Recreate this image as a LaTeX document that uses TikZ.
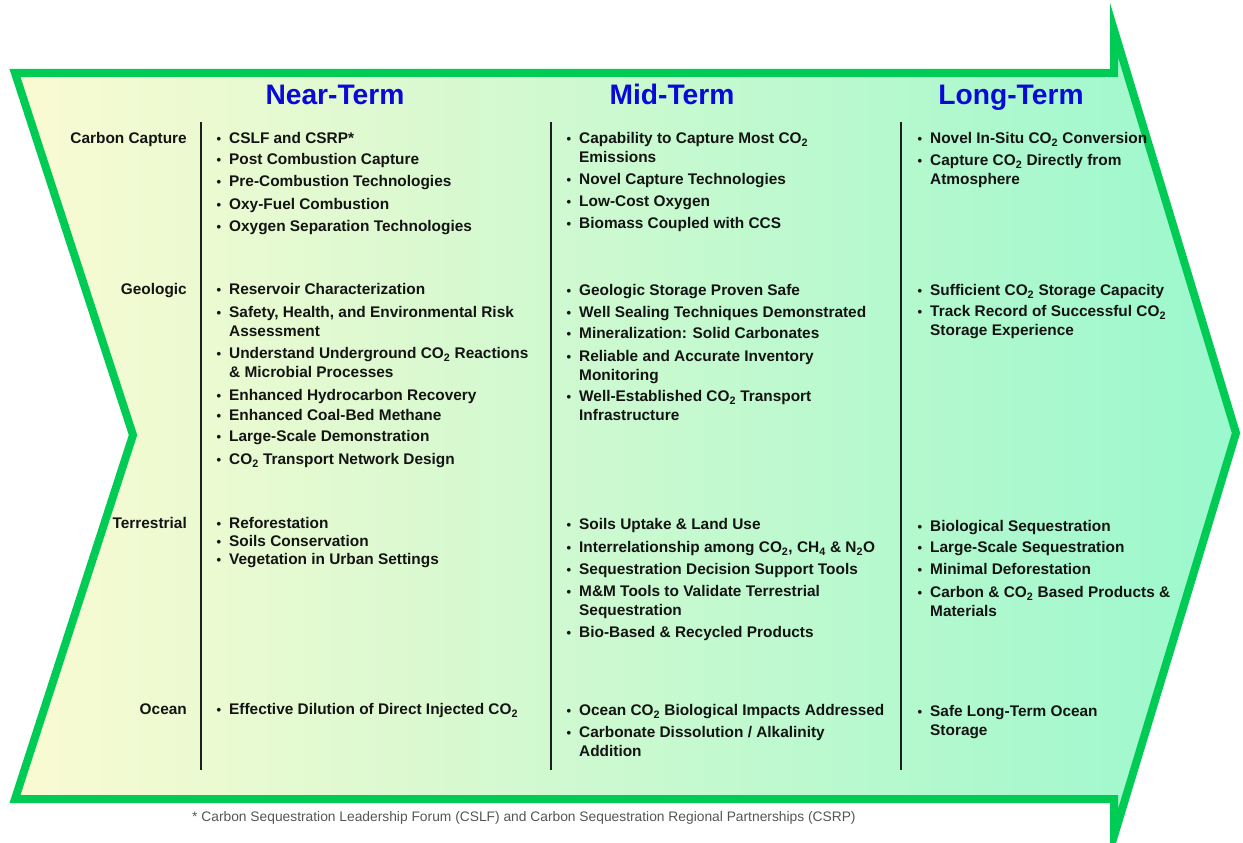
\documentclass[tikz,border=0pt]{standalone}
\usepackage{fontspec}
\setmainfont{Liberation Sans}
\definecolor{bordergreen}{RGB}{0,204,85}
\definecolor{fillyellow}{RGB}{250,250,210}
\definecolor{fillmid}{RGB}{222,249,206}
\definecolor{fillmint}{RGB}{155,248,205}
\definecolor{headblue}{RGB}{10,10,215}
\definecolor{txt}{RGB}{20,20,20}
\definecolor{footgray}{RGB}{85,85,85}
\definecolor{divgray}{RGB}{30,30,30}
\newcommand\cotwo{CO\textsubscript{2}}
\newcommand\bul{\llap{\fontsize{13}{13}\selectfont\raisebox{0.5pt}{•}\hspace{8pt}}}
\newcommand\bi[4]{\node[itm] (#1) at (#2,#3) {\bul\rule{0pt}{11.5pt}#4};}
\begin{document}
\begin{tikzpicture}[x=1pt,y=-1pt,
  itm/.style={anchor=north west,inner sep=0pt,align=left,text=txt,font=\fontsize{15.4}{19}\selectfont\bfseries},
  rowlab/.style={anchor=base east,inner sep=0pt,text=txt,font=\fontsize{15.4}{19}\selectfont\bfseries},
  head/.style={anchor=base,inner sep=0pt,text=headblue,font=\fontsize{28.2}{28}\selectfont\bfseries},
  footnote/.style={anchor=base west,inner sep=0pt,text=footgray,font=\fontsize{13.8}{15}\selectfont},
  divider/.style={line width=2pt,draw=divgray},
  arrowshape/.style={line width=8pt,draw=bordergreen,left color=fillyellow,middle color=fillmid,right color=fillmint,line join=miter}]
\useasboundingbox (0,0) rectangle (1243,843);
% arrow
\shadedraw[arrowshape] (15,73) -- (1114,73) -- (1114,30) -- (1236,433) -- (1114,836) -- (1114,799) -- (15,799) -- (133,435) -- cycle;
% headers
\node[head] (hnear) at (335,104) {Near-Term};
\node[head] (hmid) at (672,104) {Mid-Term};
\node[head] (hlong) at (1011,104) {Long-Term};
% dividers
\coordinate (d1t) at (201,122); \coordinate (d1b) at (201,770);
\coordinate (d2t) at (551,122); \coordinate (d2b) at (551,770);
\coordinate (d3t) at (901,122); \coordinate (d3b) at (901,770);
\draw[divider] (d1t) -- (d1b);
\draw[divider] (d2t) -- (d2b);
\draw[divider] (d3t) -- (d3b);
% row labels
\node[rowlab] (rcc) at (187,143.5) {Carbon Capture};
\node[rowlab] (rgeo) at (187,294.5) {Geologic};
\node[rowlab] (rter) at (187,528.5) {Terrestrial};
\node[rowlab] (roce) at (187,714.5) {Ocean};
% near-term
\bi{n1}{229}{132}{CSLF and CSRP*}
\bi{n2}{229}{153}{Post Combustion Capture}
\bi{n3}{229}{175}{Pre-Combustion Technologies}
\bi{n4}{229}{198}{Oxy-Fuel Combustion}
\bi{n5}{229}{220}{Oxygen Separation Technologies}
\bi{n6}{229}{283}{Reservoir Characterization}
\bi{n7}{229}{306}{Safety, Health, and Environmental Risk\\Assessment}
\bi{n8}{229}{347}{Understand Underground \cotwo{} Reactions\\\& Microbial Processes}
\bi{n9}{229}{389}{Enhanced Hydrocarbon Recovery}
\bi{n10}{229}{409}{Enhanced Coal-Bed Methane}
\bi{n11}{229}{430}{Large-Scale Demonstration}
\bi{n12}{229}{453}{\cotwo{} Transport Network Design}
\bi{n13}{229}{517}{Reforestation}
\bi{n14}{229}{535}{Soils Conservation}
\bi{n15}{229}{553}{Vegetation in Urban Settings}
\bi{n16}{229}{703}{Effective Dilution of Direct Injected \cotwo}
% mid-term
\bi{m1}{579}{132}{Capability to Capture Most \cotwo\\Emissions}
\bi{m2}{579}{173}{Novel Capture Technologies}
\bi{m3}{579}{195}{Low-Cost Oxygen}
\bi{m4}{579}{217}{Biomass Coupled with CCS}
\bi{m5}{579}{284}{Geologic Storage Proven Safe}
\bi{m6}{579}{306}{Well Sealing Techniques Demonstrated}
\bi{m7}{579}{327}{Mineralization: Solid Carbonates}
\bi{m8}{579}{350}{Reliable and Accurate Inventory\\Monitoring}
\bi{m9}{579}{390}{Well-Established \cotwo{} Transport\\Infrastructure}
\bi{m10}{579}{518}{Soils Uptake \& Land Use}
\bi{m11}{579}{541}{Interrelationship among \cotwo, CH\textsubscript{4} \& N\textsubscript{2}O}
\bi{m12}{579}{563}{Sequestration Decision Support Tools}
\bi{m13}{579}{585}{M\&M Tools to Validate Terrestrial\\Sequestration}
\bi{m14}{579}{626}{Bio-Based \& Recycled Products}
\bi{m15}{579}{704}{Ocean \cotwo{} Biological Impacts Addressed}
\bi{m16}{579}{726}{Carbonate Dissolution / Alkalinity\\Addition}
% long-term
\bi{l1}{930}{132}{Novel In-Situ \cotwo{} Conversion}
\bi{l2}{930}{154}{Capture \cotwo{} Directly from\\Atmosphere}
\bi{l3}{930}{284}{Sufficient \cotwo{} Storage Capacity}
\bi{l4}{930}{305}{Track Record of Successful \cotwo\\Storage Experience}
\bi{l5}{930}{520}{Biological Sequestration}
\bi{l6}{930}{541}{Large-Scale Sequestration}
\bi{l7}{930}{563}{Minimal Deforestation}
\bi{l8}{930}{586}{Carbon \& \cotwo{} Based Products \&\\Materials}
\bi{l9}{930}{705}{Safe Long-Term Ocean\\Storage}
% footnote
\node[footnote] (fn) at (192,821) {* Carbon Sequestration Leadership Forum (CSLF) and Carbon Sequestration Regional Partnerships (CSRP)};
\end{tikzpicture}
\end{document}
